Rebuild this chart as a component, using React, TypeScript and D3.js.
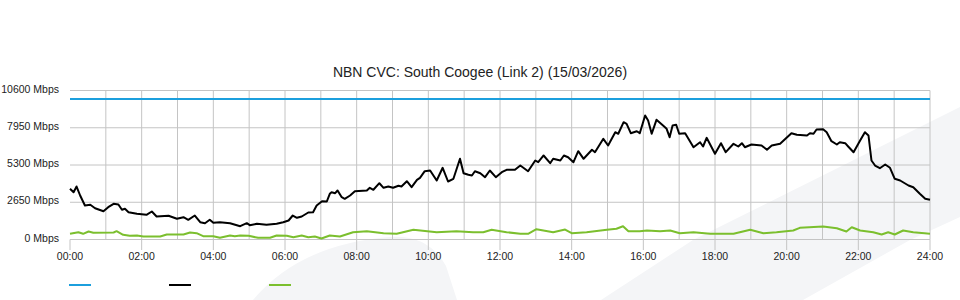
import React from "react";
import * as d3 from "d3";

const chartTitle = "NBN CVC: South Coogee (Link 2) (15/03/2026)";

// minutes since midnight
const inboundMinutes = [
  0, 6, 11, 17, 25, 34, 42, 56, 64, 73, 81, 87, 92, 98, 112, 128, 137, 145, 165, 179,
  190, 198, 209, 218, 226, 234, 240, 251, 268, 285, 296, 301, 313, 329, 346, 357, 366, 373, 380, 388,
  399, 407, 413, 422, 430, 435, 438, 444, 448, 455, 460, 469, 477, 497, 502, 508, 518, 525, 533, 541,
  550, 555, 564, 572, 581, 586, 594, 603, 614, 624, 633, 642, 653, 659, 667, 673, 678, 687, 695, 703,
  713, 723, 731, 745, 754, 767, 779, 784, 793, 804, 809, 821, 827, 834, 843, 851, 860, 874, 879, 893,
  901, 913, 918, 927, 932, 939, 949, 954, 963, 968, 974, 982, 993, 999, 1004, 1009, 1015, 1020, 1030, 1044,
  1055, 1060, 1066, 1080, 1090, 1098, 1111, 1119, 1125, 1130, 1141, 1158, 1167, 1175, 1189, 1208, 1217, 1234, 1239, 1245,
  1250, 1261, 1267, 1275, 1284, 1289, 1298, 1303, 1312, 1323, 1331, 1337, 1342, 1348, 1356, 1365, 1373, 1381, 1390, 1404,
  1412, 1423, 1432, 1440,
];
const inboundMbps = [
  3607, 3365, 3770, 3130, 2419, 2469, 2227, 2013, 2298, 2540, 2490, 2113, 2184, 1942, 1828, 1757, 1992, 1636, 1686, 1473,
  1586, 1401, 1707, 1231, 1160, 1401, 1188, 1231, 1160, 946, 1160, 1017, 1117, 1046, 1117, 1231, 1352, 1707, 1544, 1636,
  1921, 1942, 2419, 2725, 2703, 3251, 3365, 3294, 3486, 3009, 2895, 3130, 3436, 3486, 3678, 3536, 4005, 3678, 3770, 3678,
  3820, 3770, 4147, 3721, 4247, 4389, 4859, 4909, 4197, 5101, 4126, 4318, 5741, 4717, 4603, 4553, 4859, 4717, 4432, 4909,
  4432, 4788, 4958, 4958, 5264, 4859, 5620, 5499, 5976, 5428, 5741, 5620, 5976, 5855, 5499, 6282, 5741, 6381, 6211, 7164,
  6687, 7633, 7520, 8345, 8231, 7562, 7704, 7562, 8821, 8466, 7520, 8515, 8110, 7875, 7278, 8110, 8160, 7520, 7562, 6566,
  6922, 6616, 7235, 6097, 6851, 6211, 6808, 6616, 6851, 6566, 6758, 6687, 6381, 6687, 6808, 7562, 7448, 7399, 7562, 7520,
  7825, 7847, 7633, 6993, 6758, 6922, 6851, 6616, 6211, 7043, 7633, 7399, 5620, 5264, 5072, 5336, 5101, 4318, 4197, 3842,
  3721, 3251, 2895, 2824,
];

const outboundMinutes = [
  0, 14, 22, 31, 39, 73, 78, 89, 100, 112, 123, 151, 162, 190, 201, 212, 223, 240, 251, 268,
  276, 285, 299, 315, 335, 346, 363, 374, 388, 399, 410, 421, 435, 452, 474, 497, 525, 547, 575, 614,
  647, 675, 692, 706, 731, 754, 767, 781, 809, 829, 840, 865, 899, 915, 926, 935, 954, 966, 988, 1005,
  1021, 1044, 1072, 1111, 1139, 1161, 1183, 1211, 1222, 1261, 1284, 1300, 1309, 1323, 1345, 1359, 1370, 1381, 1395, 1412,
  1440,
];
const outboundMbps = [
  405, 519, 405, 569, 477, 498, 590, 334, 263, 285, 213, 213, 356, 356, 498, 448, 235, 235, 121, 285,
  235, 285, 263, 121, 121, 285, 263, 164, 285, 164, 213, 71, 285, 213, 519, 590, 448, 405, 690, 519,
  590, 519, 519, 690, 519, 405, 405, 733, 519, 711, 448, 519, 690, 761, 946, 590, 590, 640, 590, 640,
  448, 519, 405, 405, 690, 448, 519, 640, 832, 925, 804, 569, 875, 640, 519, 356, 519, 356, 640, 519,
  405,
];

const capacityMinutes = [0, 1440];
const capacityMbps = [10000, 10000];

const yTicks = [0, 2650, 5300, 7950, 10600];
const xTickHours = [0, 2, 4, 6, 8, 10, 12, 14, 16, 18, 20, 22, 24];
const gridHours = d3.range(1, 25);

const legendColors = ["#1c9fdd", "#000000", "#7bbf2e"];

const FONT = "'Liberation Sans', Arial, Helvetica, sans-serif";

export default function App() {
  const W = 960;
  const H = 300;
  const x = d3.scaleLinear().domain([0, 1440]).range([70, 930]);
  const y = d3.scaleLinear().domain([0, 10600]).range([239.5, 90.5]);

  const mk = (ts: number[], vs: number[]) =>
    d3
      .line<number>()
      .x((_, i) => x(ts[i]))
      .y((v) => y(v))(vs) || "";

  const hh = (h: number) => (h < 10 ? "0" + h : "" + h) + ":00";

  return (
    <svg
      width={W}
      height={H}
      style={{ position: "absolute", left: 0, top: 0, display: "block", background: "#fff" }}
      fontFamily={FONT}
    >
      {/* watermark */}
      <path d="M253,300 Q300,244 390,237 Q428,234 446,266 L457,300 Z" fill="#f4f5f7" />
      <path d="M601,300 L693,240 L960,107 L960,217 L910,240 L803,300 Z" fill="#f4f5f7" />

      <text x={480} y={77} textAnchor="middle" fontSize={14} fill="#222">
        {chartTitle}
      </text>

      {/* horizontal grid */}
      {yTicks.map((t) => (
        <line key={"hy" + t} x1={70} x2={930} y1={y(t)} y2={y(t)} stroke="#c4c4c4" strokeWidth={1} />
      ))}
      {/* vertical grid */}
      {gridHours.map((h) => (
        <line key={"gx" + h} x1={x(h * 60)} x2={x(h * 60)} y1={y(10600)} y2={y(0)} stroke="#c4c4c4" strokeWidth={1} />
      ))}
      {/* x ticks */}
      {xTickHours.map((h) => (
        <g key={"xt" + h}>
          <line x1={x(h * 60)} x2={x(h * 60)} y1={y(0)} y2={250} stroke="#c4c4c4" strokeWidth={1} />
          <text x={x(h * 60)} y={260} textAnchor="middle" fontSize={10.5} fill="#222">
            {hh(h)}
          </text>
        </g>
      ))}
      {/* y labels */}
      {yTicks.map((t) => (
        <text key={"yl" + t} x={59} y={y(t) + 2} textAnchor="end" fontSize={10.5} fill="#222">
          {t + " Mbps"}
        </text>
      ))}

      {/* series */}
      <path d={mk(capacityMinutes, capacityMbps)} fill="none" stroke={legendColors[0]} strokeWidth={2} />
      <path d={mk(outboundMinutes, outboundMbps)} fill="none" stroke={legendColors[2]} strokeWidth={2} strokeLinejoin="round" />
      <path d={mk(inboundMinutes, inboundMbps)} fill="none" stroke={legendColors[1]} strokeWidth={2} strokeLinejoin="round" />

      {/* legend */}
      {legendColors.map((c, i) => (
        <line key={"lg" + i} x1={69 + i * 100} x2={91 + i * 100} y1={285} y2={285} stroke={c} strokeWidth={2} />
      ))}
    </svg>
  );
}
